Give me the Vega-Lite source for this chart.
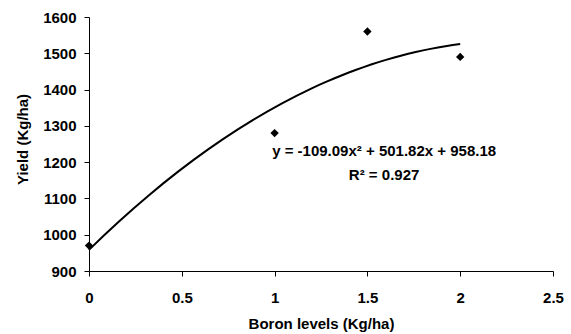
{
  "$schema": "https://vega.github.io/schema/vega-lite/v6.json",
  "width": 464,
  "height": 254,
  "autosize": "none",
  "padding": {"left": 89, "top": 17, "right": 18, "bottom": 63},
  "background": "white",
  "config": {
    "view": {"stroke": null},
    "font": "Liberation Sans",
    "axis": {
      "grid": false,
      "domainColor": "black",
      "domainWidth": 1,
      "tickColor": "black",
      "tickWidth": 1,
      "tickSize": 5,
      "labelFont": "Liberation Sans",
      "labelFontWeight": "bold",
      "labelFontSize": 15,
      "labelColor": "black",
      "titleFont": "Liberation Sans",
      "titleFontWeight": "bold",
      "titleFontSize": 15,
      "titleColor": "black"
    }
  },
  "datasets": {
    "obs": [
      {"boron": 0, "yield": 970},
      {"boron": 1, "yield": 1280},
      {"boron": 1.5, "yield": 1560},
      {"boron": 2, "yield": 1490}
    ],
    "notes": [
      {"boron": 1.59, "yield": 1231, "label": "y = -109.09x² + 501.82x + 958.18"},
      {"boron": 1.59, "yield": 1165, "label": "R² = 0.927"}
    ]
  },
  "encoding": {
    "x": {
      "field": "boron",
      "type": "quantitative",
      "scale": {"domain": [0, 2.5], "nice": false, "zero": false},
      "axis": {
        "title": "Boron levels (Kg/ha)",
        "values": [0, 0.5, 1, 1.5, 2, 2.5],
        "format": "~g",
        "labelPadding": 14,
        "titlePadding": 11,
        "labelFlush": false
      }
    },
    "y": {
      "field": "yield",
      "type": "quantitative",
      "scale": {"domain": [900, 1600], "nice": false, "zero": false},
      "axis": {
        "title": "Yield (Kg/ha)",
        "values": [900, 1000, 1100, 1200, 1300, 1400, 1500, 1600],
        "format": "d",
        "labelPadding": 8,
        "titlePadding": 12,
        "titleY": 122,
        "labelFlush": false
      }
    }
  },
  "layer": [
    {
      "data": {"name": "obs"},
      "transform": [
        {"regression": "yield", "on": "boron", "method": "poly", "order": 2, "extent": [0, 2]}
      ],
      "mark": {"type": "line", "color": "black", "strokeWidth": 2, "clip": false}
    },
    {
      "data": {"name": "obs"},
      "mark": {"type": "point", "shape": "diamond", "filled": true, "color": "black", "opacity": 1, "size": 70, "clip": false}
    },
    {
      "data": {"name": "notes"},
      "mark": {"type": "text", "font": "Liberation Sans", "fontWeight": "bold", "fontSize": 15, "color": "black", "align": "center", "baseline": "middle"},
      "encoding": {"text": {"field": "label"}}
    }
  ]
}
